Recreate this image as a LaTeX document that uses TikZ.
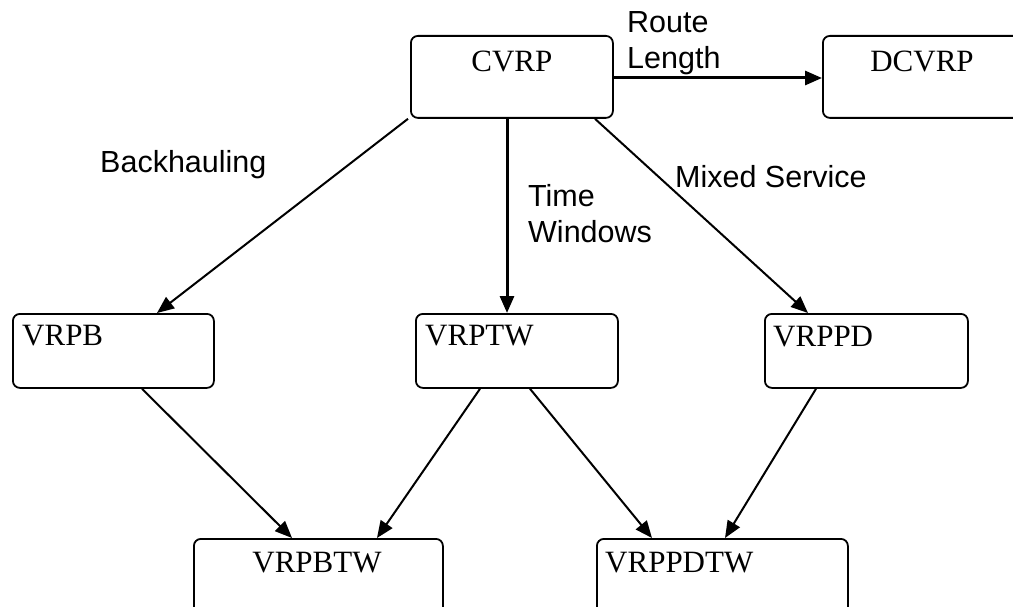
\documentclass[tikz,border=0pt]{standalone}
\usepackage{fontspec}
\setmainfont{Liberation Serif}
\newfontfamily\lblfont{Liberation Sans}
\usetikzlibrary{arrows.meta}
\begin{document}
\begin{tikzpicture}[x=1pt,y=-1pt,
  box/.style={draw, line width=1.8pt, rounded corners=7pt, anchor=north west, inner sep=0pt},
  boxtext/.style={inner sep=0pt, font=\fontsize{31}{36}\selectfont},
  lab/.style={inner sep=0pt, anchor=base west, font=\lblfont\fontsize{30.5}{36}\selectfont},
  arr/.style={-{Triangle[length=17pt,width=14pt]}, line width=2pt},
  arrthick/.style={-{Triangle[length=17pt,width=14pt]}, line width=3pt}]
\useasboundingbox (0,0) rectangle (1013,607);
% boxes
\node[box, minimum width=202pt, minimum height=82pt] (cvrp) at (410,35) {};
\node[box, minimum width=202pt, minimum height=82pt] (dcvrp) at (822,35) {};
\node[box, minimum width=201pt, minimum height=74pt] (vrpb) at (12,313) {};
\node[box, minimum width=202pt, minimum height=74pt] (vrptw) at (415,313) {};
\node[box, minimum width=203pt, minimum height=74pt] (vrppd) at (764,313) {};
\node[box, minimum width=249pt, minimum height=80pt] (vrpbtw) at (193,538) {};
\node[box, minimum width=251pt, minimum height=80pt] (vrppdtw) at (596,538) {};
% box texts
\node[boxtext, anchor=base] (tcvrp) at ([yshift=-37pt]cvrp.north) {CVRP};
\node[boxtext, anchor=base] (tdcvrp) at ([xshift=100pt,yshift=-37pt]dcvrp.north west) {DCVRP};
\node[boxtext, anchor=base west] (tvrpb) at ([xshift=10pt,yshift=-32pt]vrpb.north west) {VRPB};
\node[boxtext, anchor=base west] (tvrptw) at ([xshift=10pt,yshift=-32pt]vrptw.north west) {VRPTW};
\node[boxtext, anchor=base west] (tvrppd) at ([xshift=9pt,yshift=-33pt]vrppd.north west) {VRPPD};
\node[boxtext, anchor=base] (tvrpbtw) at ([xshift=124pt,yshift=-34pt]vrpbtw.north west) {VRPBTW};
\node[boxtext, anchor=base west] (tvrppdtw) at ([xshift=9pt,yshift=-34pt]vrppdtw.north west) {VRPPDTW};
% connectors
\draw[arrthick] ([yshift=-43pt]cvrp.north east) -- ([yshift=-43pt]dcvrp.north west);
\draw[arr] ([xshift=-2pt]cvrp.south west) -- ([xshift=145pt]vrpb.north west);
\draw[arrthick] ([xshift=97pt]cvrp.south west) -- ([xshift=92pt]vrptw.north west);
\draw[arr] ([xshift=185pt]cvrp.south west) -- ([xshift=44pt]vrppd.north west);
\draw[arr] ([xshift=130pt]vrpb.south west) -- ([xshift=99pt]vrpbtw.north west);
\draw[arr] ([xshift=65pt]vrptw.south west) -- ([xshift=184pt]vrpbtw.north west);
\draw[arr] ([xshift=115pt]vrptw.south west) -- ([xshift=56pt]vrppdtw.north west);
\draw[arr] ([xshift=52pt]vrppd.south west) -- ([xshift=129pt]vrppdtw.north west);
% labels
\node[lab] (lroute) at (627,33) {Route};
\node[lab] (llength) at (627,69) {Length};
\node[lab] (lback) at (100,173) {Backhauling};
\node[lab] (ltime) at (528,207) {Time};
\node[lab] (lwin) at (528,243) {Windows};
\node[lab] (lmixed) at (675,188) {Mixed Service};
\end{tikzpicture}
\end{document}
